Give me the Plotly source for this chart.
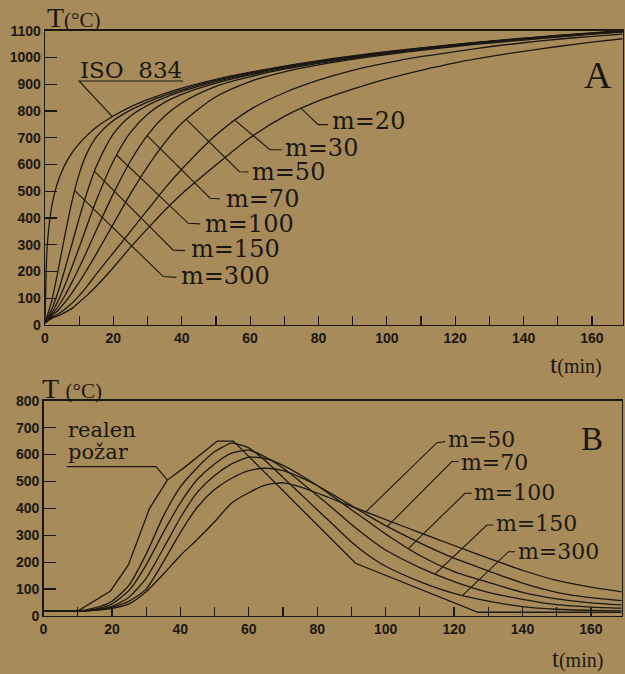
import numpy as np
import plotly.graph_objects as go

# ---------------- data ----------------
# Panel A: ISO 834 standard fire and steel temperatures for section factors m
t_iso = [0, 0.5, 1, 2, 3, 4, 5, 6, 8, 10, 12, 15, 20, 25, 30, 40, 50, 60, 70, 80,
         90, 100, 110, 120, 130, 140, 150, 160, 169]
T_iso = [8, 261, 349, 445, 502, 544, 576, 603, 645, 678, 705, 739, 781, 815, 842, 885,
         918, 945, 968, 988, 1006, 1022, 1036, 1049, 1061, 1072, 1082, 1092, 1100]

t_a = [0, 2, 4, 6, 8, 10, 12, 15, 20, 25, 30, 35, 40, 50, 60, 70, 80, 90, 100, 110,
       120, 130, 140, 150, 160, 169]
T_a_m300 = [8, 92, 215, 347, 468, 565, 635, 702, 764, 803, 833, 858, 879, 914, 942, 966,
            986, 1004, 1020, 1035, 1048, 1060, 1071, 1082, 1091, 1099]
T_a_m150 = [8, 60, 131, 217, 308, 399, 484, 592, 714, 781, 821, 850, 873, 910, 939, 963,
            984, 1002, 1019, 1033, 1047, 1059, 1070, 1081, 1090, 1099]
T_a_m100 = [8, 46, 95, 154, 221, 290, 361, 465, 613, 720, 788, 832, 862, 904, 935, 960,
            982, 1000, 1017, 1032, 1045, 1058, 1069, 1080, 1090, 1098]
T_a_m70 = [8, 38, 72, 114, 163, 215, 269, 354, 491, 613, 710, 781, 830, 892, 928, 956,
           978, 997, 1014, 1030, 1043, 1056, 1068, 1078, 1088, 1097]
T_a_m50 = [8, 33, 57, 87, 122, 160, 201, 266, 378, 490, 592, 681, 754, 853, 910, 946,
           972, 993, 1011, 1027, 1041, 1054, 1065, 1076, 1087, 1095]
T_a_m30 = [8, 28, 42, 61, 83, 110, 140, 190, 270, 350, 430, 510, 582, 710, 805, 868,
           915, 952, 980, 1003, 1022, 1040, 1055, 1068, 1079, 1087]
T_a_m20 = [8, 25, 35, 48, 63, 85, 108, 145, 215, 290, 360, 428, 490, 598, 700, 780,
           838, 882, 920, 952, 980, 1003, 1023, 1041, 1057, 1070]

# Panel B: real fire ("realen požar") and steel temperatures
t_fire = [0, 10, 19.6, 24.8, 31, 36.2, 41.6, 50.8, 55.5, 91.2, 127, 169]
T_fire = [18, 18, 93, 190, 400, 505, 556, 650, 650, 196, 14, 14]

t_b = [0, 10, 15, 20, 25, 30, 35, 40, 45, 50, 55, 60, 65, 70, 75, 80, 85, 90, 95, 100,
       110, 120, 130, 140, 150, 160, 169]
T_b_m300 = [18, 18, 30, 55, 115, 230, 370, 480, 552, 610, 642, 625, 575, 515, 455, 395,
            335, 275, 225, 185, 128, 84, 55, 35, 25, 21, 19]
T_b_m150 = [18, 18, 25, 45, 95, 190, 310, 420, 508, 565, 605, 616, 590, 550, 500, 448,
            395, 340, 290, 245, 180, 128, 88, 62, 42, 33, 29]
T_b_m100 = [18, 18, 23, 36, 70, 140, 250, 365, 460, 522, 565, 590, 585, 560, 525, 485,
            440, 395, 350, 305, 225, 165, 125, 88, 64, 49, 41]
T_b_m70 = [18, 18, 22, 32, 55, 100, 200, 310, 405, 470, 512, 540, 549, 540, 516, 485,
           448, 410, 372, 336, 272, 215, 168, 122, 88, 68, 57]
T_b_m50 = [18, 18, 21, 28, 45, 90, 155, 225, 285, 350, 420, 458, 487, 495, 480, 457,
           432, 407, 383, 358, 310, 262, 215, 170, 132, 107, 90]

labels_a = ["m=300", "m=150", "m=100", "m=70", "m=50", "m=30", "m=20"]
labels_b = ["m=50", "m=70", "m=100", "m=150", "m=300"]
x_ticks = [0, 20, 40, 60, 80, 100, 120, 140, 160]

# ---------------- style ----------------
BG = "rgb(168,139,91)"
INK = "#1b1812"
LW = 1.3
SERIF = "DejaVu Serif"

fig = go.Figure()

series_a = [T_a_m300, T_a_m150, T_a_m100, T_a_m70, T_a_m50, T_a_m30, T_a_m20]
fig.add_trace(go.Scatter(x=t_iso, y=T_iso, mode="lines", xaxis="x", yaxis="y",
                         line=dict(color=INK, width=LW, shape="spline", smoothing=0.6),
                         showlegend=False))
for ys in series_a:
    fig.add_trace(go.Scatter(x=t_a, y=ys, mode="lines", xaxis="x", yaxis="y",
                             line=dict(color=INK, width=LW, shape="spline", smoothing=0.8),
                             showlegend=False))

series_b = [T_b_m50, T_b_m70, T_b_m100, T_b_m150, T_b_m300]
fig.add_trace(go.Scatter(x=t_fire, y=T_fire, mode="lines", xaxis="x2", yaxis="y2",
                         line=dict(color=INK, width=LW), showlegend=False))
for ys in series_b:
    fig.add_trace(go.Scatter(x=t_b, y=ys, mode="lines", xaxis="x2", yaxis="y2",
                             line=dict(color=INK, width=LW, shape="spline", smoothing=0.6),
                             showlegend=False))

shapes = []
annotations = []

def leader(xr, yr, pts):
    path = "M " + " L ".join("%g,%g" % p for p in pts)
    shapes.append(dict(type="path", path=path, xref=xr, yref=yr,
                       line=dict(color=INK, width=1.1)))

def label(xr, yr, x, y, text, size=24, family=SERIF, xanchor="left"):
    annotations.append(dict(x=x, y=y, xref=xr, yref=yr, text=text, showarrow=False,
                            xanchor=xanchor, yanchor="middle", borderpad=0,
                            font=dict(family=family, size=size, color=INK)))

# panel A leaders: (anchor time on curve, elbow, end of dash, text position)
lead_a = [(8.7, (34.6, 181), (38.5, 178), (39.6, 185)),
          (14.5, (37.5, 280), (41.0, 278), (42.3, 284)),
          (21.0, (41.9, 380), (45.4, 378), (46.6, 378)),
          (29.9, (48.3, 474), (51.2, 471), (52.6, 471)),
          (41.4, (56.9, 573), (59.5, 572), (60.4, 572)),
          (55.7, (65.8, 655), (69.3, 655), (69.9, 660)),
          (75.0, (79.9, 749), (82.8, 749), (83.6, 762))]
for ys, lab, (ta, el, en, tp) in zip(series_a, labels_a, lead_a):
    Ta = float(np.interp(ta, t_a, ys))
    leader("x", "y", [(ta, Ta), el, en])
    label("x", "y", tp[0], tp[1], lab)

# ISO 834 label
Tiso_anchor = float(np.interp(19.7, t_iso, T_iso))
leader("x", "y", [(40.4, 912), (9.95, 912), (19.7, Tiso_anchor)])
label("x", "y", 9.9, 952, "ISO\u00a0\u00a0834", size=23)

# panel B leaders
lead_b = [(94.2, (115.0, 644), (117.4, 648), (117.9, 656)),
          (100.5, (119.4, 574), (121.3, 574), (121.7, 570)),
          (106.7, (123.2, 456), (125.2, 456), (125.5, 459)),
          (114.5, (129.6, 338), (131.5, 338), (131.9, 342)),
          (122.5, (135.9, 239), (137.9, 239), (138.4, 238))]
for ys, lab, (ta, el, en, tp) in zip(series_b, labels_b, lead_b):
    Ta = float(np.interp(ta, t_b, ys))
    leader("x2", "y2", [(ta, Ta), el, en])
    label("x2", "y2", tp[0], tp[1], lab, size=22)

Tfire_anchor = float(np.interp(36.2, t_fire, T_fire))
leader("x2", "y2", [(6.8, 555), (32.9, 555), (36.2, Tfire_anchor)])
label("x2", "y2", 7.0, 692, "realen", size=21)
label("x2", "y2", 7.0, 610, "požar", size=21)

# panel letters and axis captions (paper coords)
def ptxt(px, py, text, size, family="Liberation Serif", xanchor="left"):
    annotations.append(dict(x=px / 625, y=1 - py / 674, xref="paper", yref="paper",
                            text=text, showarrow=False, xanchor=xanchor, yanchor="middle",
                            borderpad=0, font=dict(family=family, size=size, color=INK)))

ptxt(583, 75, "A", 38)
ptxt(580, 439, "B", 33)
ptxt(46, 17, "T<span style='font-size:21px'>(°C)</span>", 28)
ptxt(41, 388, "T <span style='font-size:21px'>(°C)</span>", 28)
ptxt(549, 364, "t<span style='font-size:20px'>(min)</span>", 26)
ptxt(551, 658, "t<span style='font-size:20px'>(min)</span>", 25)

tickfont = dict(family="Liberation Sans", size=14, color=INK, weight="bold")
common = dict(showline=True, linecolor=INK, linewidth=1.3, mirror=True, ticks="inside",
              tickcolor=INK, tickwidth=1.2, showgrid=False, zeroline=False,
              automargin=False, tickfont=tickfont)
xcommon = dict(common, range=[0, 169], tickvals=x_ticks, ticklen=9,
               minor=dict(dtick=10, tick0=0, ticks="inside", ticklen=9, tickcolor=INK,
                          tickwidth=1.2))

fig.update_layout(
    width=625, height=674, margin=dict(l=0, r=0, t=0, b=0),
    paper_bgcolor=BG, plot_bgcolor=BG, showlegend=False, hovermode=False,
    xaxis=dict(xcommon, domain=[45 / 625, 622.7 / 625], anchor="y"),
    yaxis=dict(common, range=[0, 1100], dtick=100, ticklen=12,
               domain=[(674 - 325) / 674, (674 - 30.7) / 674], anchor="x"),
    xaxis2=dict(xcommon, domain=[43.5 / 625, 621.7 / 625], anchor="y2"),
    yaxis2=dict(common, range=[0, 800], dtick=100, ticklen=12,
                domain=[(674 - 616) / 674, (674 - 400.7) / 674], anchor="x2"),
    shapes=shapes, annotations=annotations,
)

fig.write_html("out.html", config={"displayModeBar": False, "staticPlot": True},
               post_script="document.body.style.margin='0px';"
                           "document.body.style.overflow='hidden';"
                           "document.body.style.background='" + BG + "';")
